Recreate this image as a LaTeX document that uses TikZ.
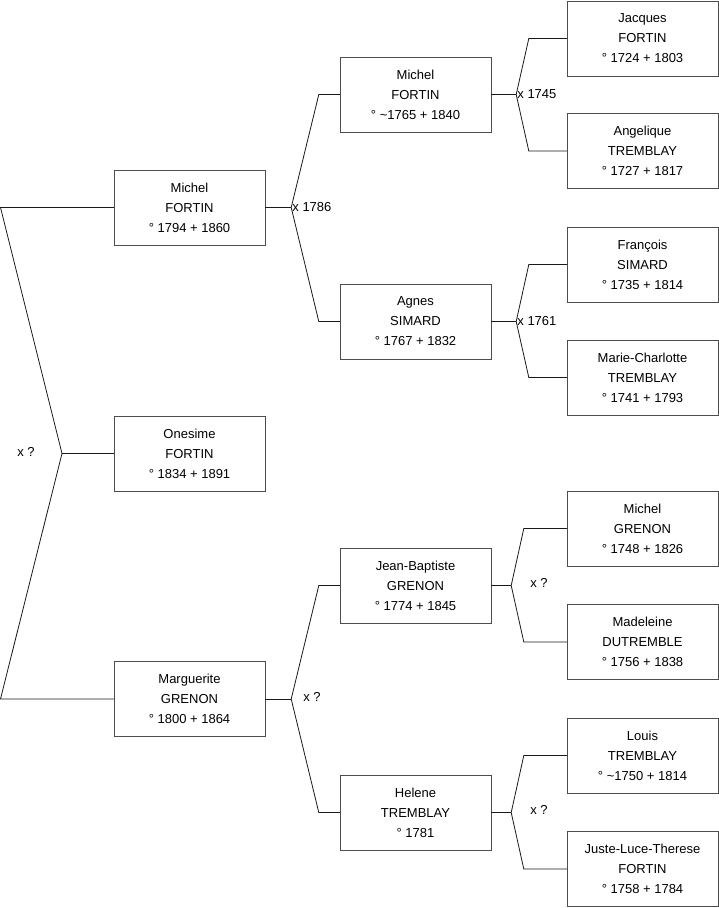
\documentclass[tikz,border=0pt]{standalone}
\usepackage{fontspec}
\setmainfont{Liberation Sans}
\usetikzlibrary{calc}

\tikzset{
  person/.style={draw=black!70, fill=white, minimum width=151pt, minimum height=75pt,
    inner sep=0pt, align=center, font=\fontsize{13}{20}\selectfont},
  link/.style={draw=black!90, line width=0.8pt},
  wed/.style={font=\fontsize{13}{15}\selectfont, inner sep=1pt}
}

\begin{document}
\begin{tikzpicture}[x=1pt, y=-1pt]
\useasboundingbox (0,0) rectangle (719,908);

% generation 0 and 1
\node[person] (onesime) at (189.5,453.5) {Onesime\\FORTIN\\° 1834 + 1891};
\node[person] (michel) at (189.5,207.5) {Michel\\FORTIN\\° 1794 + 1860};
\node[person] (marguerite) at (189.5,699) {Marguerite\\GRENON\\° 1800 + 1864};

% generation 2
\node[person] (michelp) at (415.5,94.5) {Michel\\FORTIN\\° \textasciitilde1765 + 1840};
\node[person] (agnes) at (415.5,321.5) {Agnes\\SIMARD\\° 1767 + 1832};
\node[person] (jeanb) at (415.5,585.5) {Jean-Baptiste\\GRENON\\° 1774 + 1845};
\node[person] (helene) at (415.5,812.5) {Helene\\TREMBLAY\\° 1781};

% generation 3
\node[person] (jacques) at (642.5,38.5) {Jacques\\FORTIN\\° 1724 + 1803};
\node[person] (angelique) at (642.5,151) {Angelique\\TREMBLAY\\° 1727 + 1817};
\node[person] (francois) at (642.5,264.5) {François\\SIMARD\\° 1735 + 1814};
\node[person] (mcharlotte) at (642.5,377.5) {Marie-Charlotte\\TREMBLAY\\° 1741 + 1793};
\node[person] (michelg) at (642.5,528.5) {Michel\\GRENON\\° 1748 + 1826};
\node[person] (madeleine) at (642.5,642) {Madeleine\\DUTREMBLE\\° 1756 + 1838};
\node[person] (louis) at (642.5,755.5) {Louis\\TREMBLAY\\° \textasciitilde1750 + 1814};
\node[person] (juste) at (642.5,869) {Juste-Luce-Therese\\FORTIN\\° 1758 + 1784};

% root fork
\coordinate (root) at (62,453.5);
\coordinate (rtop) at (0.5,207.5);
\coordinate (rbot) at (0.5,699);
\draw[link] (michel.west) -- (rtop) -- (root) -- (rbot) -- (marguerite.west);
\draw[link] (root) -- (onesime.west);
\node[wed] at (26,452) {x ?};

% Michel FORTIN x Agnes SIMARD
\draw[link] (michel.east) -- ++(26,0) coordinate (f1);
\draw[link] (f1) -- ($(michelp.west)+(-21,0)$) -- (michelp.west);
\draw[link] (f1) -- ($(agnes.west)+(-21,0)$) -- (agnes.west);
\node[wed, anchor=west] at (f1) {x 1786};

% Marguerite GRENON
\draw[link] (marguerite.east) -- ++(26,0) coordinate (f2);
\draw[link] (f2) -- ($(jeanb.west)+(-21,0)$) -- (jeanb.west);
\draw[link] (f2) -- ($(helene.west)+(-21,0)$) -- (helene.west);
\node[wed] at (312,697) {x ?};

% generation 2 forks
\draw[link] (michelp.east) -- ++(25,0) coordinate (f3);
\draw[link] (f3) -- ($(jacques.west)+(-38,0)$) -- (jacques.west);
\draw[link] (f3) -- ($(angelique.west)+(-38,0)$) -- (angelique.west);
\node[wed, anchor=west] at (f3) {x 1745};

\draw[link] (agnes.east) -- ++(25,0) coordinate (f4);
\draw[link] (f4) -- ($(francois.west)+(-38,0)$) -- (francois.west);
\draw[link] (f4) -- ($(mcharlotte.west)+(-38,0)$) -- (mcharlotte.west);
\node[wed, anchor=west] at (f4) {x 1761};

\draw[link] (jeanb.east) -- ++(20,0) coordinate (f5);
\draw[link] (f5) -- ($(michelg.west)+(-43,0)$) -- (michelg.west);
\draw[link] (f5) -- ($(madeleine.west)+(-43,0)$) -- (madeleine.west);
\node[wed] at (539,583) {x ?};

\draw[link] (helene.east) -- ++(20,0) coordinate (f6);
\draw[link] (f6) -- ($(louis.west)+(-43,0)$) -- (louis.west);
\draw[link] (f6) -- ($(juste.west)+(-43,0)$) -- (juste.west);
\node[wed] at (539,810) {x ?};
\end{tikzpicture}
\end{document}
